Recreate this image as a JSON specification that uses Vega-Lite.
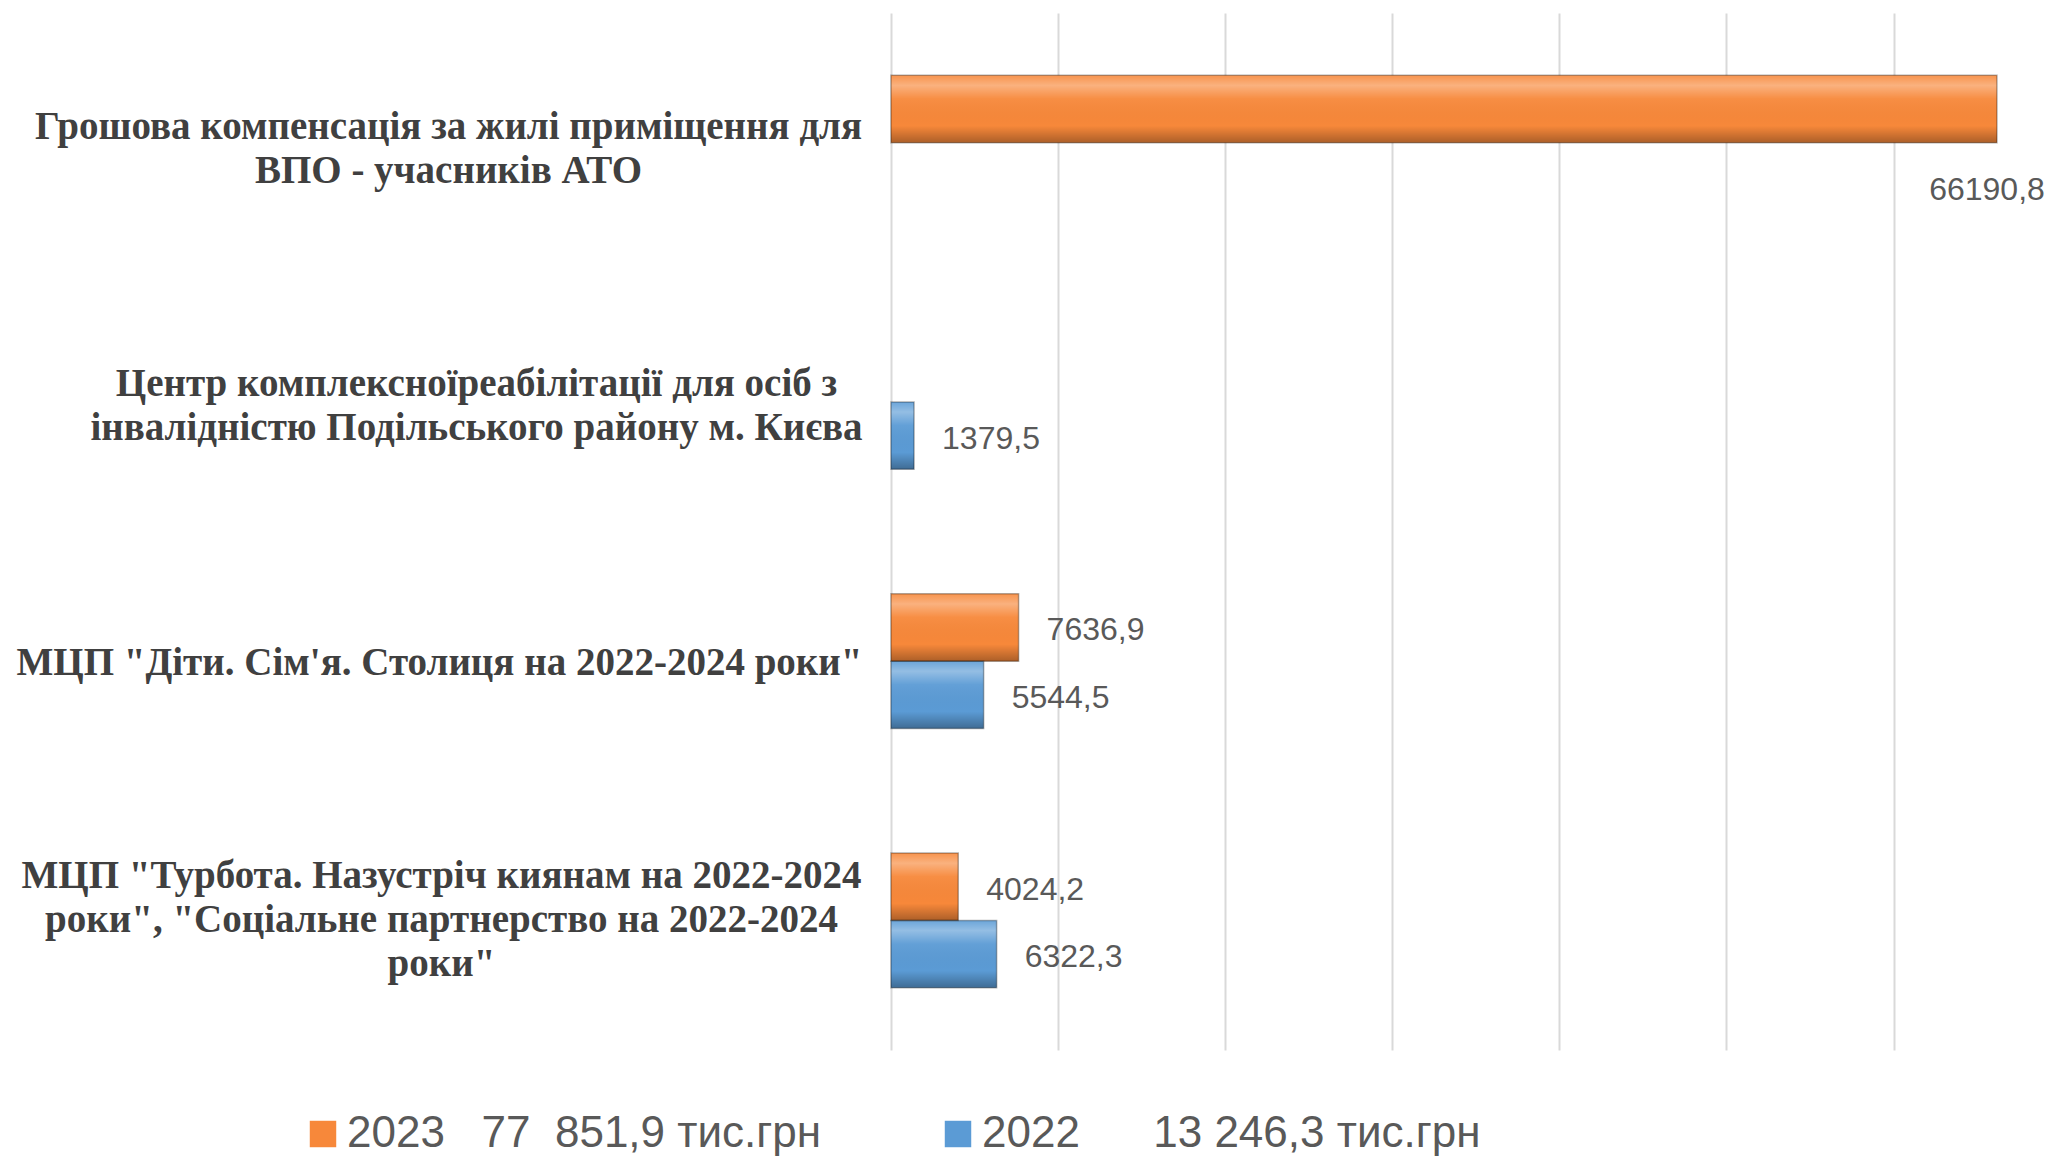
{
  "$schema": "https://vega.github.io/schema/vega-lite/v6.json",
  "width": 1156,
  "height": 1037,
  "autosize": {"type": "none"},
  "padding": {"left": 891, "top": 13, "right": 0, "bottom": 109},
  "background": "white",
  "config": {
    "view": {"stroke": null},
    "locale": {"number": {"decimal": ",", "thousands": "\u00a0", "grouping": [3], "currency": ["", ""]}}
  },
  "data": {
    "values": [
      {"cat": "Грошова  компенсація за жилі приміщення  для\nВПО - учасників АТО", "year": "2023", "value": 66190.8},
      {"cat": "Центр комплексноїреабілітації для осіб з\nінвалідністю Подільського району  м. Києва", "year": "2022", "value": 1379.5},
      {"cat": "МЦП \"Діти. Сім'я. Столиця на 2022-2024 роки\"", "year": "2023", "value": 7636.9},
      {"cat": "МЦП \"Діти. Сім'я. Столиця на 2022-2024 роки\"", "year": "2022", "value": 5544.5},
      {"cat": "МЦП \"Турбота. Назустріч киянам на 2022-2024\nроки\", \"Соціальне партнерство на 2022-2024\nроки\"", "year": "2023", "value": 4024.2},
      {"cat": "МЦП \"Турбота. Назустріч киянам на 2022-2024\nроки\", \"Соціальне партнерство на 2022-2024\nроки\"", "year": "2022", "value": 6322.3}
    ]
  },
  "encoding": {
    "y": {
      "field": "cat",
      "type": "nominal",
      "sort": null,
      "scale": {"paddingInner": 0.481, "paddingOuter": 0.2405},
      "axis": {
        "title": null,
        "domain": false,
        "ticks": false,
        "tickSize": 0,
        "grid": false,
        "labelPadding": {
          "condition": [
            {"test": "indexof(datum.value, 'Центр') >= 0", "value": 415},
            {"test": "indexof(datum.value, 'Сім') >= 0", "value": 452},
            {"test": "indexof(datum.value, 'Турбота') >= 0", "value": 450}
          ],
          "value": 443
        },
        "labelOffset": {
          "condition": [
            {"test": "indexof(datum.value, 'Турбота') >= 0", "value": -44},
            {"test": "indexof(datum.value, 'АТО') >= 0", "value": -16},
            {"test": "indexof(datum.value, 'Центр') >= 0", "value": -18}
          ],
          "value": 2
        },
        "labelAlign": "center",
        "labelBaseline": "middle",
        "labelFont": "Liberation Serif",
        "labelFontWeight": "bold",
        "labelFontSize": 39,
        "labelColor": "#404040",
        "labelLimit": 1000,
        "labelLineHeight": 44,
        "labelExpr": "split(datum.label, '\\n')"
      }
    },
    "yOffset": {"field": "year", "type": "nominal", "sort": ["2023", "2022"]},
    "x": {
      "field": "value",
      "type": "quantitative",
      "scale": {"domain": [0, 69184], "nice": false, "zero": true},
      "axis": {
        "title": null,
        "values": [0, 10000, 20000, 30000, 40000, 50000, 60000],
        "labels": false,
        "ticks": false,
        "domain": false,
        "grid": true,
        "gridColor": "#D9D9D9",
        "gridWidth": 2
      }
    }
  },
  "layer": [
    {
      "mark": {"type": "bar"},
      "encoding": {
        "color": {
          "field": "year",
          "type": "nominal",
          "scale": {"domain": ["2023", "2022"], "range": ["#F7883A", "#5B9BD5"]},
          "legend": {
            "orient": "none",
            "legendX": -590,
            "legendY": 1099,
            "direction": "horizontal",
            "title": null,
            "symbolType": "square",
            "symbolSize": 700,
            "symbolStrokeWidth": 0,
            "labelFont": "Liberation Sans",
            "labelFontSize": 44,
            "labelColor": "#595959",
            "labelOffset": 2,
            "columnPadding": 114,
            "labelLimit": 1200,
            "labelExpr": "datum.label == '2023' ? '2023\u00a0\u00a0\u00a077\u00a0\u00a0851,9\u00a0тис.грн' : '2022\u00a0\u00a0\u00a0\u00a0\u00a0\u00a013\u00a0246,3\u00a0тис.грн'"
          }
        }
      }
    },
    {
      "mark": {
        "type": "bar",
        "stroke": "rgba(0,0,0,0.3)",
        "strokeWidth": 1.5,
        "fill": {
          "gradient": "linear",
          "x1": 0, "y1": 0, "x2": 0, "y2": 1,
          "stops": [
            {"offset": 0, "color": "rgba(255,255,255,0.1)"},
            {"offset": 0.15, "color": "rgba(255,255,255,0.35)"},
            {"offset": 0.35, "color": "rgba(255,255,255,0.05)"},
            {"offset": 0.75, "color": "rgba(0,0,0,0)"},
            {"offset": 1, "color": "rgba(0,0,0,0.3)"}
          ]
        }
      }
    },
    {
      "transform": [{"filter": "datum.value < 60000"}],
      "mark": {"type": "text", "align": "left", "baseline": "middle", "dx": 28, "dy": 3, "font": "Liberation Sans", "fontSize": 32, "fill": "#595959"},
      "encoding": {"text": {"field": "value", "type": "quantitative", "format": ".1f"}}
    },
    {
      "transform": [{"filter": "datum.value >= 60000"}],
      "mark": {"type": "text", "align": "center", "baseline": "middle", "dx": -10, "dy": 81, "font": "Liberation Sans", "fontSize": 32, "fill": "#595959"},
      "encoding": {"text": {"field": "value", "type": "quantitative", "format": ".1f"}}
    }
  ]
}
